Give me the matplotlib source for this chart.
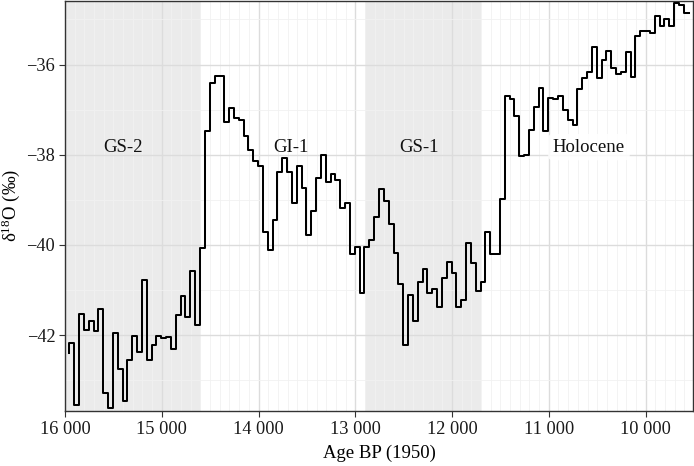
import matplotlib
matplotlib.use('Agg')
import matplotlib.pyplot as plt
from matplotlib.ticker import MultipleLocator, FuncFormatter
import numpy as np

plt.rcParams['font.family'] = ['Liberation Serif', 'DejaVu Serif']
plt.rcParams['mathtext.default'] = 'regular'

# ages (years BP, 50-yr steps, youngest first) and d18O values (permil)
age = np.arange(9555, 15956, 50)
d18o = [
    -34.86, -34.69, -34.64, -35.15, -35.00, -35.14, -34.92, -35.30, -35.26, -35.25,
    -35.37, -36.28, -35.73, -36.17, -36.21, -36.08, -35.70, -35.89, -36.29, -35.62,
    -36.16, -36.30, -36.54, -37.35, -37.24, -37.00, -36.69, -36.77, -36.74, -37.48,
    -36.52, -36.94, -37.44, -38.00, -38.03, -37.13, -36.77, -36.69, -38.99, -40.19,
    -40.19, -39.71, -40.83, -41.03, -40.41, -39.95, -41.21, -41.37, -40.63, -40.38,
    -40.74, -41.37, -40.97, -41.06, -40.54, -40.82, -41.68, -41.10, -42.21, -40.86,
    -40.18, -39.53, -39.03, -38.76, -39.38, -39.88, -40.04, -41.06, -40.04, -40.21,
    -39.07, -39.19, -38.57, -38.43, -38.61, -38.01, -38.51, -39.25, -39.77, -38.73,
    -38.24, -39.07, -38.38, -38.08, -38.38, -39.44, -40.10, -39.71, -38.24, -38.13,
    -37.89, -37.59, -37.22, -37.18, -36.96, -37.28, -36.25, -36.25, -36.41, -37.48,
    -40.07, -41.77, -40.58, -41.59, -41.13, -41.56, -42.30, -42.04, -42.06, -42.02,
    -42.22, -42.54, -40.78, -42.38, -42.01, -42.54, -43.46, -42.74, -41.94, -43.62,
    -43.29, -41.41, -41.91, -41.68, -41.89, -41.52, -43.55, -42.18, -42.40,
]

# stadial periods (shaded) and period labels
stadials = [(16000, 14595), (12898, 11697)]
period_names = ['GS-2', 'GI-1', 'GS-1', 'Holocene']
period_x = [15400, 13670, 12340, 10585]
label_y = -37.83

fig = plt.figure(figsize=(6.94, 4.66), dpi=100)
ax = fig.add_axes([65 / 694, 55 / 466, 628 / 694, 410.5 / 466])

for start, end in stadials:
    ax.axvspan(end, start, color='#EBEBEB', lw=0, zorder=0)

ax.step(age, d18o, where='post', color='black', lw=1.45, zorder=3)

for name, x in zip(period_names, period_x):
    kw = {}
    if name == 'Holocene':
        kw['bbox'] = dict(boxstyle='round,pad=0.25', facecolor='white',
                          edgecolor='none', alpha=0.85)
    ax.text(x, label_y, name, ha='center', va='center', fontsize=13.5,
            color='#111111', zorder=4, **kw)

ax.set_xlim(16000, 9510)
ax.set_ylim(-43.68, -34.58)

ax.xaxis.set_major_locator(MultipleLocator(1000))
ax.xaxis.set_minor_locator(MultipleLocator(100))
ax.yaxis.set_major_locator(MultipleLocator(2))
ax.yaxis.set_minor_locator(MultipleLocator(1))
ax.xaxis.set_major_formatter(FuncFormatter(lambda v, p: f'{int(v):,}'.replace(',', ' ')))

ax.grid(which='major', color='#DCDCDC', lw=1.0, zorder=1)
ax.grid(which='minor', color='#F1F1F1', lw=0.6, zorder=1)
ax.set_axisbelow(True)

for s in ax.spines.values():
    s.set_color('#333333')
    s.set_linewidth(1.0)

ax.tick_params(which='major', length=4, width=0.8, color='#333333',
               labelsize=13.2, labelcolor='#1a1a1a', pad=3)
ax.tick_params(which='minor', length=0)

ax.set_xlabel('Age BP (1950)', fontsize=13.5, labelpad=5)
ax.set_ylabel('δ$^{18}$O (‰)', fontsize=13.5, labelpad=3)

plt.savefig('out.png', dpi=100)
